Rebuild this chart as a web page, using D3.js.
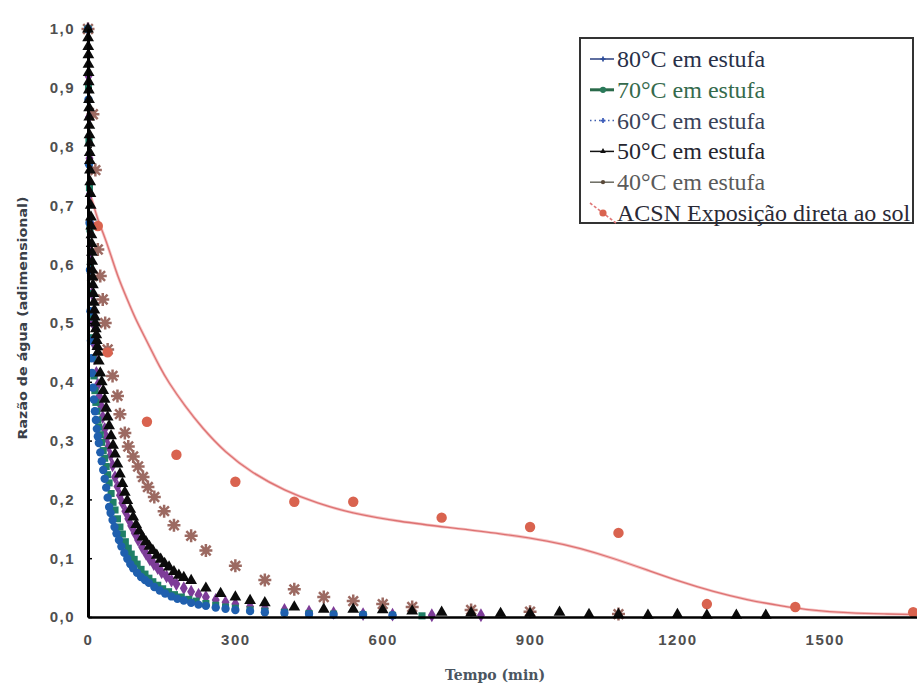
<!DOCTYPE html>
<html>
<head>
<meta charset="utf-8">
<script src="https://cdn.jsdelivr.net/npm/d3@7"></script>
<style>
  html, body { margin: 0; padding: 0; background: #fff; }
  svg { display: block; }
</style>
</head>
<body>
<svg id="chart" width="917" height="685"></svg>
<script>
// ---- Data: drying curves, moisture ratio vs time (min) ----
const xTicks = [0, 300, 600, 900, 1200, 1500];
const yTicks = [0, 0.1, 0.2, 0.3, 0.4, 0.5, 0.6, 0.7, 0.8, 0.9, 1.0];

const seriesLabels = [
  "80°C em estufa",
  "70°C em estufa",
  "60°C em estufa",
  "50°C em estufa",
  "40°C em estufa",
  "ACSN Exposição direta ao sol"
];

const oven80 = [[0,1.00],[1,0.88],[2,0.77],[3,0.67],[4,0.59],[5,0.52],[6,0.47],[7,0.44],[8,0.415],[10,0.39],[12,0.37],[14,0.35],[16,0.335],[18,0.32],[20,0.307],[22,0.296],[25,0.28],[28,0.265],[31,0.25],[34,0.235],[37,0.22],[40,0.203],[43,0.187],[46,0.177],[50,0.165],[54,0.153],[58,0.142],[63,0.131],[68,0.12],[74,0.109],[80,0.099],[86,0.09],[92,0.083],[100,0.075],[108,0.068],[116,0.063],[124,0.058],[135,0.051],[146,0.045],[157,0.04],[170,0.035],[182,0.031],[195,0.028],[210,0.024],[225,0.021],[240,0.019],[260,0.016],[280,0.014],[300,0.012],[330,0.01],[360,0.008],[400,0.007],[450,0.005],[500,0.004],[560,0.004],[620,0.003]];

const oven70 = [[0,1.00],[1,0.90],[2,0.81],[3,0.73],[4,0.66],[5,0.60],[6,0.55],[7,0.51],[8,0.475],[10,0.44],[12,0.41],[14,0.385],[16,0.365],[18,0.35],[20,0.335],[22,0.323],[25,0.31],[28,0.297],[31,0.283],[34,0.27],[37,0.256],[40,0.242],[43,0.228],[47,0.21],[51,0.195],[55,0.182],[60,0.167],[65,0.153],[70,0.141],[76,0.128],[82,0.117],[88,0.107],[94,0.098],[100,0.09],[108,0.081],[116,0.073],[124,0.066],[132,0.06],[142,0.054],[152,0.048],[164,0.043],[176,0.038],[190,0.034],[205,0.03],[220,0.027],[240,0.023],[260,0.02],[280,0.017],[300,0.015],[330,0.012],[360,0.01],[400,0.008],[450,0.006],[500,0.005],[560,0.004],[620,0.003],[680,0.002]];

const oven60 = [[0,1.00],[1,0.92],[2,0.85],[3,0.78],[4,0.72],[5,0.67],[6,0.62],[8,0.55],[10,0.50],[12,0.465],[14,0.44],[17,0.415],[20,0.395],[23,0.375],[26,0.36],[30,0.34],[34,0.32],[38,0.305],[42,0.29],[46,0.275],[50,0.258],[55,0.238],[60,0.222],[65,0.207],[70,0.194],[76,0.18],[82,0.167],[88,0.155],[95,0.143],[102,0.131],[110,0.119],[118,0.108],[126,0.098],[134,0.09],[142,0.083],[150,0.076],[160,0.069],[170,0.062],[180,0.056],[195,0.049],[210,0.043],[225,0.038],[240,0.034],[260,0.029],[280,0.025],[300,0.022],[330,0.018],[360,0.015],[400,0.012],[450,0.009],[500,0.007],[560,0.005],[620,0.004],[700,0.003],[800,0.003]];

const oven50 = [[0,1.00],[0.25,0.985],[0.5,0.97],[0.75,0.956],[1,0.94],[1.25,0.926],[1.5,0.91],[1.75,0.896],[2,0.88],[2.25,0.866],[2.5,0.85],[2.75,0.836],[3,0.82],[3.25,0.806],[3.5,0.79],[3.75,0.776],[4,0.76],[4.5,0.74],[5,0.72],[5.5,0.70],[6,0.68],[6.5,0.665],[7,0.65],[7.5,0.635],[8,0.62],[8.5,0.605],[9,0.59],[9.5,0.578],[10,0.565],[11,0.55],[12,0.535],[13,0.522],[14,0.51],[15,0.50],[16,0.49],[17,0.48],[18,0.47],[19,0.46],[20,0.45],[22,0.435],[25,0.415],[28,0.40],[31,0.385],[34,0.37],[37,0.355],[40,0.34],[43,0.325],[47,0.308],[51,0.292],[55,0.277],[60,0.26],[65,0.243],[70,0.227],[75,0.212],[80,0.198],[86,0.183],[92,0.17],[98,0.157],[104,0.146],[111,0.136],[118,0.128],[125,0.12],[132,0.113],[140,0.105],[148,0.098],[156,0.091],[165,0.085],[175,0.077],[185,0.071],[195,0.067],[210,0.062],[240,0.049],[270,0.04],[300,0.034],[330,0.028],[360,0.024],[420,0.017],[480,0.013],[540,0.013],[600,0.012],[660,0.01],[720,0.008],[780,0.007],[840,0.006],[900,0.006],[960,0.008],[1020,0.004],[1080,0.004],[1140,0.003],[1200,0.004],[1260,0.003],[1320,0.003],[1380,0.003]];

const oven40 = [[0,1.00],[10,0.855],[15,0.76],[20,0.625],[25,0.58],[30,0.54],[35,0.50],[40,0.455],[50,0.41],[60,0.376],[65,0.345],[75,0.313],[82,0.29],[92,0.273],[102,0.256],[112,0.238],[122,0.221],[135,0.204],[155,0.18],[175,0.156],[210,0.138],[240,0.113],[300,0.087],[360,0.063],[420,0.047],[480,0.034],[540,0.027],[600,0.022],[660,0.017],[780,0.012],[900,0.009],[1080,0.005]];

const solPoints = [[20,0.665],[40,0.45],[120,0.332],[180,0.276],[300,0.23],[420,0.196],[540,0.196],[720,0.169],[900,0.153],[1080,0.143],[1260,0.022],[1440,0.017],[1680,0.008]];

const solFit = [[0,0.73],[8,0.71],[20,0.675],[30,0.655],[45,0.62],[60,0.58],[80,0.54],[96,0.508],[115,0.477],[130,0.452],[145,0.427],[163,0.40],[198,0.358],[232,0.322],[279,0.28],[334,0.245],[400,0.215],[468,0.193],[534,0.177],[635,0.162],[737,0.152],[839,0.142],[941,0.129],[1002,0.117],[1069,0.10],[1138,0.08],[1206,0.06],[1273,0.043],[1342,0.029],[1409,0.019],[1477,0.011],[1546,0.007],[1620,0.005],[1700,0.004]];

// ---- Layout ----
const svg = d3.select("#chart");
const plot = { left: 88, top: 29, bottom: 617, right: 923 };

const x = d3.scaleLinear().domain([0, 1700]).range([plot.left, plot.right]);
const y = d3.scaleLinear().domain([0, 1]).range([plot.bottom, plot.top]);

svg.append("rect").attr("width", 917).attr("height", 685).attr("fill", "#fff");

const commaFmt = d => d3.format(".1f")(d).replace(".", ",");

// ---- Fitted curve for sun exposure ----
const fitLine = d3.line().x(d => x(d[0])).y(d => y(d[1])).curve(d3.curveBasis);
svg.append("path")
  .datum(solFit)
  .attr("d", fitLine)
  .attr("fill", "none")
  .attr("stroke", "#f6c4c4")
  .attr("stroke-width", 3);
svg.append("path")
  .datum(solFit)
  .attr("d", fitLine)
  .attr("fill", "none")
  .attr("stroke", "#dd7272")
  .attr("stroke-width", 1.3);

// ---- Marker shapes ----
const asteriskPath = "M-6.5,0H6.5M0,-6.5V6.5M-4.8,-4.8L4.8,4.8M-4.8,4.8L4.8,-4.8";

function drawSymbols(data, type, size, fill, cls) {
  svg.append("g").attr("class", cls)
    .selectAll("path").data(data).join("path")
    .attr("transform", d => `translate(${x(d[0])},${y(d[1])})`)
    .attr("d", d3.symbol().type(type).size(size))
    .attr("fill", fill);
}

// 40 °C asterisks
svg.append("g").attr("class", "s40")
  .selectAll("path").data(oven40).join("path")
  .attr("transform", d => `translate(${x(d[0])},${y(d[1])})`)
  .attr("d", asteriskPath)
  .attr("fill", "none")
  .attr("stroke", "#9c6a62")
  .attr("stroke-width", 2.5);

// sun exposure points
drawSymbols(solPoints, d3.symbolCircle, 85, "#d9634f", "sol");

drawSymbols(oven60, d3.symbolDiamond, 55, "#7d3c98", "s60");
drawSymbols(oven70, d3.symbolSquare, 50, "#1f7f66", "s70");
drawSymbols(oven80, d3.symbolCircle, 55, "#1f5fae", "s80");
drawSymbols(oven50, d3.symbolTriangle, 60, "#0b0b0b", "s50");

// ---- Axes ----
const yAxis = d3.axisLeft(y)
  .tickValues(yTicks)
  .tickFormat(commaFmt)
  .tickSizeInner(-4)
  .tickSizeOuter(0)
  .tickPadding(13);
const gy = svg.append("g").attr("transform", `translate(${plot.left},0)`).call(yAxis);
gy.select(".domain").attr("stroke", "#000").attr("stroke-width", 3);
gy.selectAll(".tick line").attr("stroke", "#000").attr("stroke-width", 1.5);
gy.selectAll(".tick text")
  .attr("font-family", "'Liberation Sans', Arial, sans-serif")
  .attr("font-size", 15)
  .attr("font-weight", "bold")
  .attr("letter-spacing", 1.5)
  .attr("fill", "#4f4f4f");

const xAxis = d3.axisBottom(x)
  .tickValues(xTicks)
  .tickFormat(d3.format("d"))
  .tickSize(0)
  .tickPadding(17);
const gx = svg.append("g").attr("transform", `translate(0,${plot.bottom})`).call(xAxis);
gx.select(".domain").attr("stroke", "#000").attr("stroke-width", 2.5);
gx.selectAll(".tick text")
  .attr("font-family", "'Liberation Sans', Arial, sans-serif")
  .attr("font-size", 15)
  .attr("font-weight", "bold")
  .attr("letter-spacing", 1.5)
  .attr("fill", "#4f4f4f");

// ---- Axis titles ----
svg.append("text")
  .attr("x", 495).attr("y", 680)
  .attr("text-anchor", "middle")
  .attr("font-family", "'DejaVu Serif', serif")
  .attr("font-size", 14)
  .attr("font-weight", "bold")
  .attr("fill", "#4a5560")
  .text("Tempo (min)");

svg.append("text")
  .attr("transform", "translate(27,318) rotate(-90)")
  .attr("text-anchor", "middle")
  .attr("font-family", "'DejaVu Sans', sans-serif")
  .attr("font-size", 13)
  .attr("font-weight", "bold")
  .attr("fill", "#3a4048")
  .attr("textLength", 243)
  .attr("lengthAdjust", "spacingAndGlyphs")
  .text("Razão de água (adimensional)");

// ---- Legend ----
const legend = svg.append("g").attr("class", "legend");
legend.append("rect")
  .attr("x", 580).attr("y", 38)
  .attr("width", 333).attr("height", 185)
  .attr("fill", "#fff")
  .attr("stroke", "#333")
  .attr("stroke-width", 2);

const legendText = ["#283048", "#356a4c", "#3a4258", "#26262f", "#5a5a5a", "#2a2a36"];
const legendLine = ["#2a3f80", "#2a6a4a", "#4060b0", "#111", "#6a6a60", "#e07878"];
const legendMark = ["#2a4a9a", "#2a7a5a", "#3a5ab8", "#111", "#5a4a3a", "#d9634f"];

seriesLabels.forEach((label, i) => {
  const base = 67 + i * 30.8;
  const cy = base - 8;
  const g = legend.append("g");
  if (i === 5) {
    g.append("line")
      .attr("x1", 590).attr("y1", cy - 10).attr("x2", 616).attr("y2", cy + 10)
      .attr("stroke", legendLine[i]).attr("stroke-width", 1.6).attr("stroke-dasharray", "3,2");
    g.append("path")
      .attr("transform", `translate(603,${cy})`)
      .attr("d", d3.symbol().type(d3.symbolCircle).size(40))
      .attr("fill", legendMark[i]);
  } else {
    g.append("line")
      .attr("x1", 590).attr("y1", cy).attr("x2", 614).attr("y2", cy)
      .attr("stroke", legendLine[i])
      .attr("stroke-width", i === 1 ? 3 : 1.5)
      .attr("stroke-dasharray", i === 2 ? "1.5,3" : null);
    const types = [d3.symbolCross, d3.symbolCircle, d3.symbolCross, d3.symbolTriangle, d3.symbolCircle];
    g.append("path")
      .attr("transform", `translate(603,${cy})`)
      .attr("d", d3.symbol().type(types[i]).size(i === 1 ? 30 : 14))
      .attr("fill", legendMark[i]);
  }
  g.append("text")
    .attr("x", 617).attr("y", base)
    .style("font-family", "'Liberation Serif', serif")
    .attr("font-size", 24)
    .attr("fill", legendText[i])
    .text(label);
});
</script>
</body>
</html>
